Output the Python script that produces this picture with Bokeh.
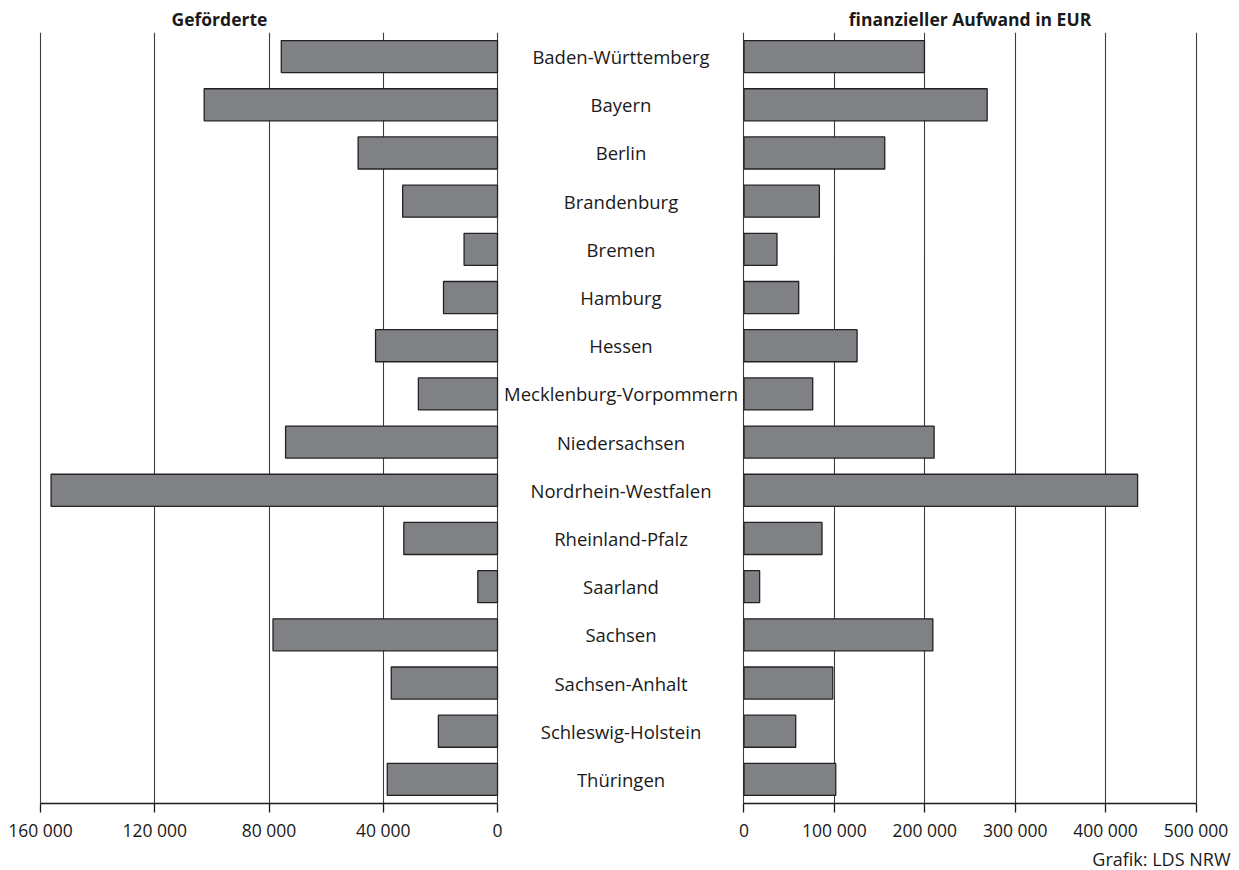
from bokeh.plotting import figure
from bokeh.layouts import row
from bokeh.models import Range1d, FactorRange, FixedTicker, Title, ColumnDataSource
from bokeh.core.properties import value
from bokeh.embed import file_html
from bokeh.resources import INLINE

# ---------------- data ----------------
states = ["Baden-Württemberg", "Bayern", "Berlin", "Brandenburg", "Bremen", "Hamburg",
          "Hessen", "Mecklenburg-Vorpommern", "Niedersachsen", "Nordrhein-Westfalen",
          "Rheinland-Pfalz", "Saarland", "Sachsen", "Sachsen-Anhalt",
          "Schleswig-Holstein", "Thüringen"]
gefoerderte = [75700, 102700, 48800, 33200, 11700, 18900, 42700, 27700,
               74200, 156300, 32800, 6900, 78600, 37200, 20700, 38600]
aufwand_eur = [199600, 269000, 155700, 83400, 36500, 60500, 125100, 76000,
               210300, 435400, 86300, 17300, 208900, 98200, 57200, 101500]
left_ticks = [160000, 120000, 80000, 40000, 0]
left_tick_labels = ["160 000", "120 000", "80 000", "40 000", "0"]
right_ticks = [0, 100000, 200000, 300000, 400000, 500000]
right_tick_labels = ["0", "100 000", "200 000", "300 000", "400 000", "500 000"]
left_title = "Geförderte"
right_title = "finanzieller Aufwand in EUR"
source_note = "Grafik: LDS NRW"

# ---------------- style ----------------
FONT = "Open Sans"
TXT = "#1a1a1a"
BAR_FILL = "#808185"
BAR_LINE = "#222222"
GRID = "#3c3c3c"
H = 870
TOP = 32
BOTTOM = 67
PAD_L = 1050     # small range padding so the edge gridlines stay inside the frame
PAD_R = 2765

yr = FactorRange(factors=list(reversed(states)), range_padding=0)

src_l = ColumnDataSource(dict(state=states, value=gefoerderte))
src_r = ColumnDataSource(dict(state=states, value=aufwand_eur))
src_m = ColumnDataSource(dict(state=states))


def style_title(t, size="17.5px", bold=True):
    t.text_font = FONT
    t.text_font_size = size
    t.text_font_style = "bold" if bold else "normal"
    t.text_color = TXT
    t.standoff = 4


def style_axis(p, ticks, labels):
    ax = p.xaxis[0]
    ax.ticker = FixedTicker(ticks=ticks)
    ax.major_label_overrides = {t: l for t, l in zip(ticks, labels)}
    ax.bounds = (min(ticks), max(ticks))
    ax.axis_line_color = TXT
    ax.axis_line_width = 1.3
    ax.major_tick_line_color = TXT
    ax.major_tick_line_width = 1.3
    ax.major_tick_in = 0
    ax.major_tick_out = 9
    ax.minor_tick_line_color = None
    ax.major_label_text_font = FONT
    ax.major_label_text_font_size = "17.5px"
    ax.major_label_text_color = TXT
    ax.major_label_standoff = 5
    ax.axis_label_standoff = 0
    p.yaxis.visible = False
    p.ygrid.visible = False
    p.xgrid.ticker = FixedTicker(ticks=ticks)
    p.xgrid.grid_line_color = GRID
    p.xgrid.grid_line_width = 1.1
    p.outline_line_color = None
    p.background_fill_color = "white"
    p.border_fill_color = "white"


# left panel
pl = figure(width=503, height=H, x_range=Range1d(160000 + PAD_L, -PAD_L), y_range=yr,
            toolbar_location=None, output_backend="svg", title=left_title,
            min_border_left=37, min_border_right=3,
            min_border_top=TOP, min_border_bottom=BOTTOM)
style_axis(pl, left_ticks, left_tick_labels)
style_title(pl.title)
pl.title.align = "left"
pl.title.offset = 134
pl.hbar(y="state", left=0, right="value", height=0.665, source=src_l,
        fill_color=BAR_FILL, line_color=BAR_LINE, line_width=1.3)

# middle labels
pm = figure(width=235, height=H, x_range=Range1d(0, 1), y_range=yr,
            toolbar_location=None, output_backend="svg", title=" ",
            min_border_left=0, min_border_right=0,
            min_border_top=TOP, min_border_bottom=BOTTOM)
style_title(pm.title)
pm.axis.visible = False
pm.grid.visible = False
pm.outline_line_color = None
pm.text(x=0.5, y="state", text="state", source=src_m,
        text_font=value(FONT), text_font_size="18.5px", text_color=TXT,
        text_align="center", text_baseline="middle")

# right panel
pr = figure(width=493, height=H, x_range=Range1d(-PAD_R, 500000 + PAD_R), y_range=yr,
            toolbar_location=None, output_backend="svg", title=right_title,
            min_border_left=3, min_border_right=33,
            min_border_top=TOP, min_border_bottom=BOTTOM)
style_axis(pr, right_ticks, right_tick_labels)
style_title(pr.title)
pr.title.align = "center"
pr.hbar(y="state", left=0, right="value", height=0.665, source=src_r,
        fill_color=BAR_FILL, line_color=BAR_LINE, line_width=1.3)
note = Title(text=source_note, align="right", offset=-32)
style_title(note, size="18px", bold=False)
note.standoff = 0
pr.add_layout(note, "below")

layout = row(pl, pm, pr)
open("out.html", "w").write(file_html(layout, INLINE))
